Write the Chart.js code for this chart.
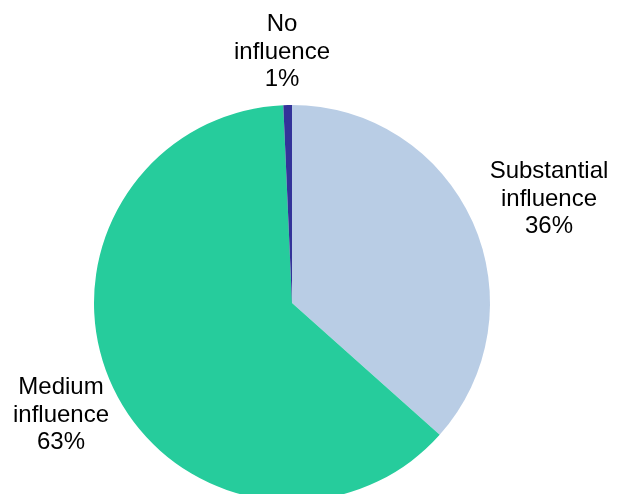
<!DOCTYPE html>
<html>
<head>
<meta charset="utf-8">
<script src="https://cdn.jsdelivr.net/npm/chart.js@4"></script>
<style>
  html, body { margin: 0; padding: 0; background: #fff; overflow: hidden; }
  #wrap { position: relative; width: 617px; height: 510px; }
</style>
</head>
<body>
<div id="wrap"><canvas id="pieChart"></canvas></div>
<script>
// Chart data
const categories = ["Substantial influence", "Medium influence", "No influence"];
const shares = [36.6, 62.7, 0.7];
const sliceColors = ["#B9CDE5", "#26CC9C", "#333399"];

// label text lines and anchor points (centre of the text block)
const labelLines = [
  ["Substantial", "influence", "36%"],
  ["Medium", "influence", "63%"],
  ["No", "influence", "1%"],
];
const labelAnchors = [
  { x: 549, y: 199 },
  { x: 61, y: 415 },
  { x: 282, y: 52 },
];

// draws the outside labels
const outsideLabels = {
  id: "outsideLabels",
  afterDraw(chart) {
    const ctx = chart.ctx;
    ctx.save();
    ctx.font = "24px 'Liberation Sans', Arial, sans-serif";
    ctx.fillStyle = "#000";
    ctx.textAlign = "center";
    ctx.textBaseline = "middle";
    const lineH = 27.5;
    labelLines.forEach((lines, i) => {
      const a = labelAnchors[i];
      lines.forEach((t, j) => {
        ctx.fillText(t, a.x, a.y + (j - 1) * lineH);
      });
    });
    ctx.restore();
  },
};

new Chart(document.getElementById("pieChart").getContext("2d"), {
  type: "pie",
  data: {
    labels: categories,
    datasets: [
      {
        data: shares,
        backgroundColor: sliceColors,
        borderWidth: 0,
      },
    ],
  },
  options: {
    responsive: true,
    maintainAspectRatio: false,
    animation: false,
    layout: {
      padding: { top: 105, bottom: 9, left: 94, right: 127 },
    },
    plugins: {
      legend: { display: false },
      tooltip: { enabled: false },
    },
  },
  plugins: [outsideLabels],
});
</script>
</body>
</html>
